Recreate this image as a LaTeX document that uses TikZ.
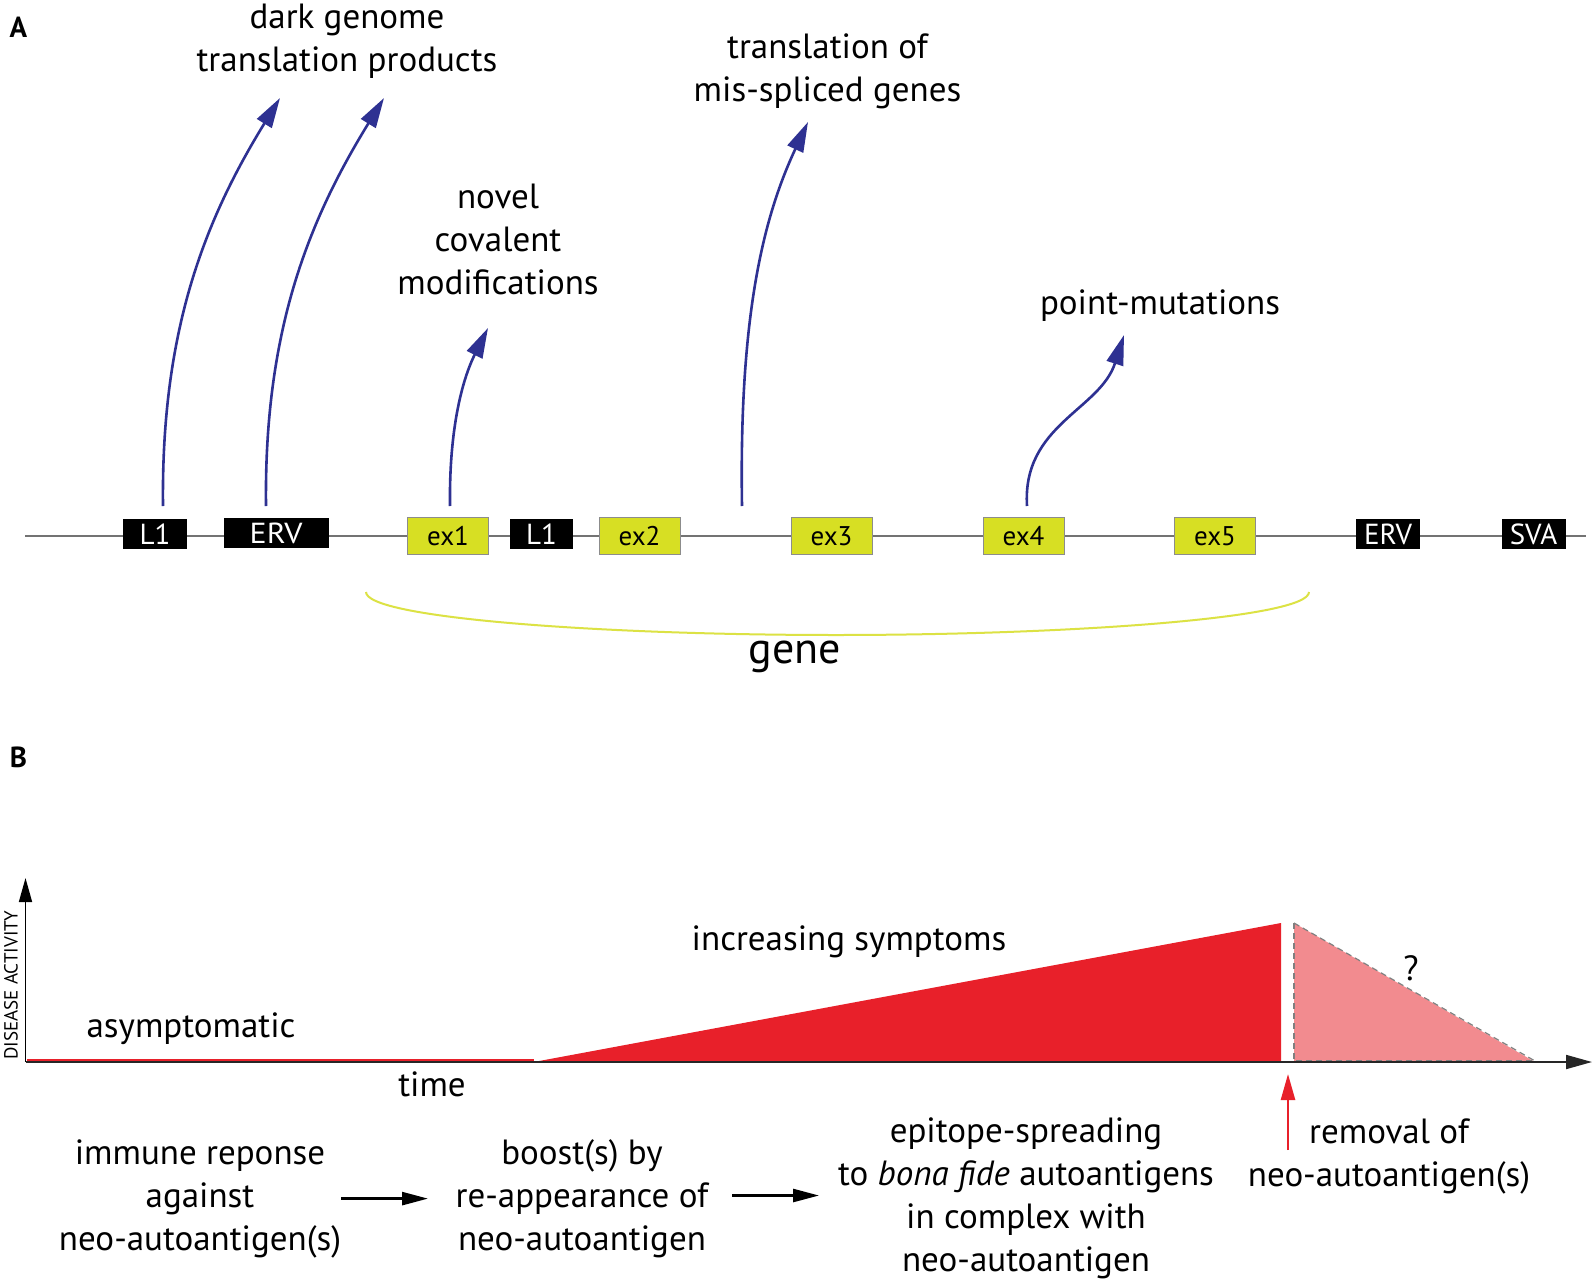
\documentclass[tikz,border=0pt]{standalone}
\usepackage{fontspec}
\setmainfont{PT Sans}
\usetikzlibrary{arrows.meta}
\definecolor{navy}{HTML}{2E3192}
\definecolor{exyel}{HTML}{D7DF23}
\definecolor{geneyel}{HTML}{DCE244}
\definecolor{redfill}{HTML}{E8202A}
\definecolor{pinkfill}{HTML}{F28B8F}
\tikzset{
  txt/.style={font=\fontsize{35}{43}\selectfont, align=center, inner sep=0pt},
  blackbox/.style={fill=black, minimum height=30, inner sep=0pt, text=white, font=\fontsize{29}{30}\selectfont},
  exbox/.style={fill=exyel, draw=black!45, line width=0.8, minimum height=36.5, minimum width=81, inner sep=0pt, font=\fontsize{27}{30}\selectfont},
  bluearrow/.style={navy, line width=2.6, -{Triangle[length=30, width=17]}},
  blackarrow/.style={black, line width=2.6, -{Triangle[length=26, width=13]}},
  panel/.style={font=\fontsize{29}{30}\selectfont\bfseries, inner sep=0pt},
}
\begin{document}
\begin{tikzpicture}[x=1pt, y=-1pt]
\useasboundingbox (0,0) rectangle (1594,1284);
\fill[white] (0,0) rectangle (1594,1284);

% ---------- Panel A ----------
\node[panel] (lblA) at (18.5,27.5) {A};
\coordinate (gl) at (25,536);
\coordinate (gr) at (1586,536);
\draw[black!55, line width=1.4] (gl) -- (gr);

\node[blackbox, minimum width=64] (L1a) at (155,534) {L1};
\node[blackbox, minimum width=105] (ERVa) at (276,533) {\scalebox{1.1}[1]{ERV}};
\node[exbox] (ex1) at (448,536) {ex1};
\node[blackbox, minimum width=63] (L1b) at (541.5,534) {L1};
\node[exbox] (ex2) at (639.5,536) {ex2};
\node[exbox] (ex3) at (831.5,536) {ex3};
\node[exbox] (ex4) at (1023.5,536) {ex4};
\node[exbox] (ex5) at (1215,536) {ex5};
\node[blackbox, minimum width=64] (ERVb) at (1388,534) {ERV};
\node[blackbox, minimum width=64] (SVA) at (1533.5,534) {SVA};

% gene bracket
\coordinate (gb1) at (366,592);
\coordinate (gbm) at (836,635);
\coordinate (gb2) at (1309,592);
\draw[geneyel, line width=2] (gb1) .. controls (366,618) and (600,635) .. (gbm) .. controls (1070,635) and (1309,618) .. (gb2);
\node[inner sep=0pt, font=\fontsize{44}{48}\selectfont] (gene) at (795,657) {gene};

% labels
\node[txt] (dark) at (347,41) {dark genome\\translation products};
\node[txt] (missp) at (827.5,71) {translation of\\mis-spliced genes};
\node[txt] (novel) at (498,239) {novel\\covalent\\modifications};
\node[txt] (point) at (1160,306) {point-mutations};

% arrows
\coordinate (s1) at (163,506);
\coordinate (t1) at (280,98);
\coordinate (s2) at (266,506);
\coordinate (t2) at (384,98);
\coordinate (s3) at (450,506);
\coordinate (t3) at (488,328);
\coordinate (s4) at (742,506);
\coordinate (t4) at (808,122);
\coordinate (s5) at (1027,506);
\coordinate (t5) at (1124,335);
\draw[bluearrow] (s1) .. controls (161,330) and (205,220) .. (t1);
\draw[bluearrow] (s2) .. controls (264,330) and (309,220) .. (t2);
\draw[bluearrow] (s3) .. controls (449,430) and (462,380) .. (t3);
\draw[bluearrow] (s4) .. controls (739,320) and (762,220) .. (t4);
\draw[bluearrow] (s5) .. controls (1022,425) and (1100,410) .. (t5);

% ---------- Panel B ----------
\node[panel] (lblB) at (18.5,757) {B};
\coordinate (o) at (25.5,1062);
\coordinate (ytop) at (25.5,878);
\coordinate (xend) at (1592,1062);

\fill[redfill] (533.7,1062) -- (1281,923) -- (1281,1062) -- cycle;
\draw[redfill, line width=3] (27,1060.5) -- (534,1060.5);
\fill[pinkfill] (1294,923) -- (1294,1062) -- (1535,1062) -- cycle;
\draw[black!50, line width=1.2, dash pattern=on 6pt off 4pt] (1294,923) -- (1294,1061) -- (1535,1061);
\draw[black!50, line width=1.2, dash pattern=on 6pt off 4pt] (1294,923) -- (1535,1061);

\draw[black, line width=1.6, -{Triangle[length=24, width=13]}] (o) -- (ytop);
\draw[black!85, line width=1.8, -{Triangle[length=26, width=14]}] (o) -- (xend);

\node[rotate=90, inner sep=0pt, font=\fontsize{19}{20}\selectfont] (dact) at (11,985) {DISEASE ACTIVITY};
\node[txt] (asym) at (191,1029) {asymptomatic};
\node[txt] (time) at (432,1084) {time};
\node[txt] (incr) at (849,942) {increasing symptoms};
\node[txt] (qm) at (1411,968) {?};

\coordinate (ra1) at (1288,1150);
\coordinate (ra2) at (1288,1074);
\draw[redfill, line width=2.6, -{Triangle[length=26, width=14]}] (ra1) -- (ra2);

\node[txt] (immune) at (200,1199) {immune reponse\\against\\neo-autoantigen(s)};
\node[txt] (boost) at (582,1199) {boost(s) by\\re-appearance of\\neo-autoantigen};
\node[txt] (epi) at (1026,1198.5) {epitope-spreading\\to \emph{bona fide} autoantigens\\in complex with\\neo-autoantigen};
\node[txt] (remov) at (1389,1156) {removal of\\neo-autoantigen(s)};

\coordinate (a1s) at (341,1198.6);
\coordinate (a1e) at (428,1198.6);
\coordinate (a2s) at (732,1195.5);
\coordinate (a2e) at (819,1195.5);
\draw[blackarrow] (a1s) -- (a1e);
\draw[blackarrow] (a2s) -- (a2e);
\end{tikzpicture}
\end{document}
